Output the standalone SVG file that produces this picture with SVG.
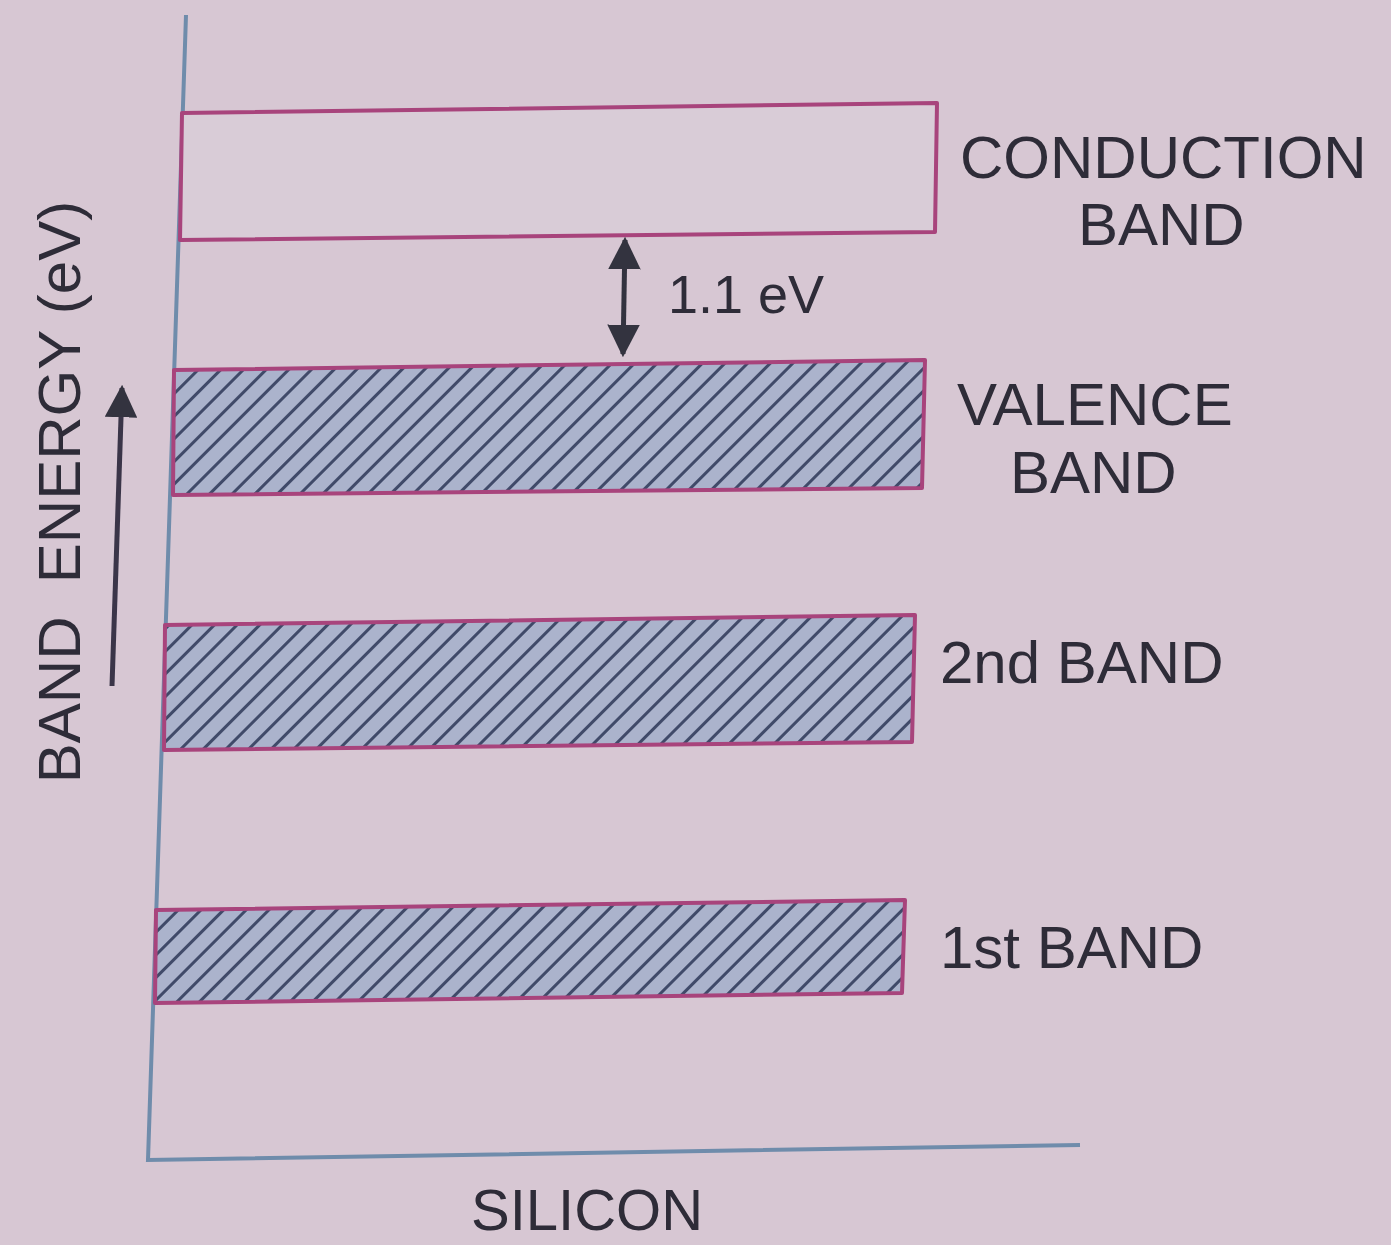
<svg xmlns="http://www.w3.org/2000/svg" width="1391" height="1245" viewBox="0 0 1391 1245">
<style>
.lbl{font-family:"Liberation Sans",Arial,sans-serif;font-size:60px;fill:#2e2c38}
.band{stroke:#a8447c;stroke-width:4;stroke-linejoin:round}
.hatch{fill:url(#hatch)}
.axis{stroke:#6f8cab;stroke-width:4;fill:none}
</style>
<defs>
<pattern id="hatch" patternUnits="userSpaceOnUse" width="16" height="16" patternTransform="rotate(45)">
<rect width="16" height="16" fill="#abb3cc"/>
<rect x="0" y="0" width="3" height="16" fill="#404a69"/>
</pattern>
<marker id="ah" viewBox="0 0 10 10" refX="9" refY="5" markerWidth="6.5" markerHeight="6.5" orient="auto-start-reverse" markerUnits="strokeWidth">
<path d="M0,0 L10,5 L0,10 z" fill="#33333f"/>
</marker>
</defs>
<rect width="1391" height="1245" fill="#d7c7d3"/>
<g id="axes">
<polyline class="axis" points="186,15 148,1160 1080,1145"/>
</g>
<g id="conduction-band">
<polygon class="band" fill="#d9ccd7" points="182,113 937,103 935,232 180,240"/>
<text class="lbl" x="960" y="178">CONDUCTION</text>
<text class="lbl" x="1078" y="245">BAND</text>
</g>
<g id="valence-band">
<polygon class="band hatch" points="174,370 925,360 922,488 173,495"/>
<text class="lbl" x="957" y="425">VALENCE</text>
<text class="lbl" x="1010" y="493">BAND</text>
</g>
<g id="second-band">
<polygon class="band hatch" points="165,625 915,615 912,742 164,750"/>
<text class="lbl" x="940" y="683">2nd BAND</text>
</g>
<g id="first-band">
<polygon class="band hatch" points="156,910 905,900 902,993 155,1003"/>
<text class="lbl" x="940" y="968">1st BAND</text>
</g>
<g id="connectors">
<line x1="625" y1="240" x2="623" y2="354" stroke="#33333f" stroke-width="5" marker-start="url(#ah)" marker-end="url(#ah)"/>
<line x1="112" y1="686" x2="122" y2="388" stroke="#3a3548" stroke-width="5" marker-end="url(#ah)"/>
</g>
<text class="lbl" x="668" y="313" style="font-size:54px">1.1 eV</text>
<text class="lbl" transform="translate(80,492) rotate(-90)" text-anchor="middle" xml:space="preserve" style="font-size:60px">BAND  ENERGY (eV)</text>
<text class="lbl" x="587" y="1230" text-anchor="middle" style="font-size:58px">SILICON</text>
</svg>
